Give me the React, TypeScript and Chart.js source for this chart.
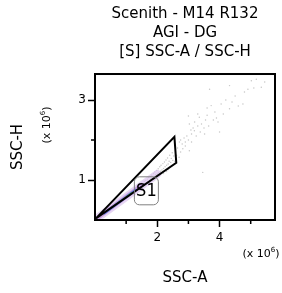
import React, { useEffect, useRef } from "react";
import { Chart, registerables } from "chart.js";

Chart.register(...registerables);

const titleLines = ["Scenith - M14 R132", "AGI - DG", "[S] SSC-A / SSC-H"];
const xAxisTitle = "SSC-A";
const yAxisTitle = "SSC-H";
const multiplierBase = "(x 10";
const multiplierExp = "6";

const xMin = 0;
const xMax = 5.78;
const yMin = 0;
const yMax = 3.65;
const xTickValues = [1, 2, 3, 4, 5];
const xMajorTicks = [2, 4];
const yTickValues = [1, 2, 3];
const yMajorTicks = [1, 3];

const gateName = "S1";
const gateX = [0.03, 2.55, 2.61, 0.03];
const gateY = [0.04, 2.08, 1.43, 0.04];
const gateLabelX = 1.65;
const gateLabelY = 0.73;

// sparse events (SSC-A, SSC-H) x 10^6
const eventsX = [
  1.25, 1.3, 1.35, 1.38, 1.42, 1.45, 1.48, 1.5, 1.52, 1.55, 1.58, 1.6, 1.62, 1.65, 1.68, 1.7,
  1.72, 1.75, 1.78, 1.8, 1.82, 1.85, 1.88, 1.9, 1.92, 1.95, 1.98, 2.0, 2.03, 2.05, 2.08, 2.1,
  2.12, 2.15, 2.18, 2.2, 2.23, 2.25, 2.28, 2.3, 2.33, 2.35, 2.38, 2.4, 2.43, 2.45, 2.48, 2.5,
  2.53, 2.56, 2.2, 2.3, 2.4, 2.35, 1.9, 2.0, 1.7, 1.6,
  2.62, 2.65, 2.7, 2.71, 2.75, 2.8, 2.82, 2.86, 2.9, 2.95, 3.0, 3.03, 3.03, 3.08, 3.1, 3.15,
  3.19, 3.2, 3.25, 3.3, 3.35, 3.38, 3.42, 3.46, 3.5, 3.52, 3.55, 3.6, 3.65, 3.68, 3.73, 3.8,
  3.85, 3.9, 4.0, 4.05, 4.12, 4.2, 4.32, 4.32, 4.4, 4.5, 4.6, 4.75, 4.8, 4.91, 5.02, 5.1,
  5.18, 5.34, 5.45, 2.9, 3.1, 3.3, 3.6, 3.95, 2.75, 3.0
];
const eventsY = [
  0.74, 0.8, 0.76, 0.84, 0.8, 0.88, 0.83, 0.92, 0.85, 0.9, 0.96, 0.89, 0.99, 0.94, 1.02, 0.95,
  1.06, 1.0, 1.09, 1.03, 1.12, 1.05, 1.16, 1.09, 1.2, 1.13, 1.24, 1.15, 1.28, 1.19, 1.33, 1.22,
  1.37, 1.25, 1.41, 1.29, 1.45, 1.33, 1.5, 1.37, 1.55, 1.4, 1.47, 1.62, 1.44, 1.54, 1.68, 1.49,
  1.6, 1.47, 1.16, 1.21, 1.32, 1.26, 1.01, 1.08, 0.93, 0.88,
  1.62, 1.8, 1.57, 1.95, 1.7, 1.9, 1.78, 2.05, 1.85, 2.1, 2.0, 2.4, 1.73, 2.25, 2.15, 2.3,
  2.23, 2.45, 2.1, 2.35, 2.57, 2.2, 2.4, 1.19, 2.3, 2.15, 2.5, 2.62, 2.35, 3.27, 2.86, 2.5,
  2.7, 2.55, 2.2, 2.9, 2.65, 3.0, 2.78, 3.36, 2.95, 3.1, 2.85, 2.9, 3.2, 3.27, 3.48, 3.3,
  3.52, 3.32, 3.45, 1.95, 1.95, 2.65, 2.8, 2.45, 2.0, 2.6
];

// dense core streak, drawn as bands
const hazeX = [0.06, 2.0];
const hazeY = [0.04, 1.15];
const purpleX = [0.1, 1.5];
const purpleY = [0.06, 0.87];
const blueX = [0.3, 1.3];
const blueY = [0.17, 0.75];
const greenX = [0.55, 1.18];
const greenY = [0.32, 0.68];
const redX = [0.8, 1.0];
const redY = [0.46, 0.58];

const FONT = "'DejaVu Sans', sans-serif";

const toPoints = (xs: number[], ys: number[]) => xs.map((x, i) => ({ x, y: ys[i] }));

const band = (xs: number[], ys: number[], color: string, width: number, order: number) => ({
  type: "line" as const,
  data: toPoints(xs, ys),
  borderColor: color,
  borderWidth: width,
  pointRadius: 0,
  showLine: true,
  fill: false,
  borderCapStyle: "round" as const,
  order,
});

const drawMultiplier = (ctx: CanvasRenderingContext2D, x: number, y: number) => {
  ctx.font = `11px ${FONT}`;
  const w1 = ctx.measureText(multiplierBase).width;
  ctx.font = `7px ${FONT}`;
  const w2 = ctx.measureText(multiplierExp).width;
  ctx.font = `11px ${FONT}`;
  const w3 = ctx.measureText(")").width;
  const total = w1 + w2 + w3;
  let cx = x - total / 2;
  ctx.textAlign = "left";
  ctx.textBaseline = "middle";
  ctx.fillText(multiplierBase, cx, y);
  cx += w1;
  ctx.font = `7px ${FONT}`;
  ctx.fillText(multiplierExp, cx, y - 4);
  cx += w2;
  ctx.font = `11px ${FONT}`;
  ctx.fillText(")", cx, y);
};

const decorPlugin = {
  id: "decor",
  afterDatasetsDraw(chart: any) {
    const { ctx, scales } = chart;
    const xs = scales.x;
    const ys = scales.y;
    ctx.save();
    const lx = xs.getPixelForValue(gateLabelX);
    const ly = ys.getPixelForValue(gateLabelY);
    const bw = 24;
    const bh = 28;
    ctx.beginPath();
    (ctx as any).roundRect(lx - bw / 2, ly - bh / 2, bw, bh, 5);
    ctx.strokeStyle = "#808080";
    ctx.lineWidth = 1;
    ctx.stroke();
    ctx.fillStyle = "#000";
    ctx.font = `18px 'DejaVu Sans Condensed', ${FONT}`;
    ctx.textAlign = "center";
    ctx.textBaseline = "middle";
    ctx.fillText(gateName, lx, ly + 1);
    ctx.restore();
  },
  afterDraw(chart: any) {
    const { ctx, chartArea, scales } = chart;
    const xs = scales.x;
    const ys = scales.y;
    ctx.save();
    ctx.strokeStyle = "#000";
    ctx.lineWidth = 2;
    ctx.strokeRect(chartArea.left, chartArea.top, chartArea.right - chartArea.left, chartArea.bottom - chartArea.top);
    ctx.lineWidth = 1.5;
    ctx.beginPath();
    xTickValues.filter((v) => !xMajorTicks.includes(v)).forEach((v) => {
      const px = xs.getPixelForValue(v);
      ctx.moveTo(px, chartArea.bottom);
      ctx.lineTo(px, chartArea.bottom + 4);
    });
    yTickValues.filter((v) => !yMajorTicks.includes(v)).forEach((v) => {
      const py = ys.getPixelForValue(v);
      ctx.moveTo(chartArea.left, py);
      ctx.lineTo(chartArea.left - 4, py);
    });
    ctx.stroke();
    ctx.fillStyle = "#000";
    ctx.font = `15px ${FONT}`;
    ctx.textAlign = "center";
    ctx.textBaseline = "middle";
    const cx = (chartArea.left + chartArea.right) / 2;
    const cy = (chartArea.top + chartArea.bottom) / 2;
    ctx.fillText(xAxisTitle, cx, chartArea.bottom + 58);
    ctx.save();
    ctx.translate(18, cy);
    ctx.rotate(-Math.PI / 2);
    ctx.fillText(yAxisTitle, 0, 0);
    ctx.restore();
    drawMultiplier(ctx, chartArea.right - 14, chartArea.bottom + 34);
    ctx.save();
    ctx.translate(47, cy - 22);
    ctx.rotate(-Math.PI / 2);
    drawMultiplier(ctx, 0, 0);
    ctx.restore();
    ctx.restore();
  },
};

export default function App() {
  const canvasRef = useRef<HTMLCanvasElement | null>(null);

  useEffect(() => {
    if (!canvasRef.current) return;
    Chart.defaults.font.family = FONT;
    const chart = new Chart(canvasRef.current, {
      type: "scatter",
      data: {
        datasets: [
          {
            type: "line",
            data: toPoints(gateX, gateY),
            borderColor: "#000",
            borderWidth: 2,
            pointRadius: 0,
            showLine: true,
            fill: false,
            borderJoinStyle: "miter",
            order: 0,
          } as any,
          band(redX, redY, "rgba(225,60,50,0.9)", 1, 1),
          band(greenX, greenY, "rgba(70,200,90,0.95)", 1.4, 2),
          band(blueX, blueY, "rgba(80,110,230,0.85)", 2.4, 3),
          band(purpleX, purpleY, "rgba(185,140,215,0.7)", 4, 4),
          band(hazeX, hazeY, "rgba(220,195,238,0.7)", 8, 5),
          {
            type: "scatter",
            data: toPoints(eventsX, eventsY),
            backgroundColor: "rgba(140,140,140,0.5)",
            borderWidth: 0,
            pointRadius: 0.7,
            order: 6,
          } as any,
        ],
      },
      options: {
        animation: false,
        responsive: true,
        maintainAspectRatio: false,
        layout: { padding: { left: 0, right: 7, top: 0, bottom: 0 } },
        plugins: {
          legend: { display: false },
          tooltip: { enabled: false },
          title: {
            display: true,
            text: titleLines,
            fullSize: false,
            color: "#000",
            font: { family: FONT, size: 15, weight: "normal", lineHeight: 1.267 },
            padding: { top: 5, bottom: 12 },
          },
        },
        scales: {
          x: {
            type: "linear",
            min: xMin,
            max: xMax,
            afterFit: (s: any) => {
              s.height = 73;
            },
            border: { display: true, color: "#000", width: 2 },
            grid: {
              display: true,
              drawOnChartArea: false,
              drawTicks: true,
              tickLength: 7,
              tickWidth: 1.5,
              tickColor: (c: any) => (xMajorTicks.includes(c.tick?.value) ? "#000" : "rgba(0,0,0,0)"),
            },
            ticks: {
              stepSize: 1,
              includeBounds: false,
              autoSkip: false,
              maxRotation: 0,
              color: "#000",
              padding: 4,
              font: { family: FONT, size: 12 },
              callback: (v: any) => (xMajorTicks.includes(Number(v)) ? String(v) : ""),
            },
          },
          y: {
            type: "linear",
            min: yMin,
            max: yMax,
            afterFit: (s: any) => {
              s.width = 95;
            },
            border: { display: true, color: "#000", width: 2 },
            grid: {
              display: true,
              drawOnChartArea: false,
              drawTicks: true,
              tickLength: 7,
              tickWidth: 1.5,
              tickColor: (c: any) => (yMajorTicks.includes(c.tick?.value) ? "#000" : "rgba(0,0,0,0)"),
            },
            ticks: {
              stepSize: 1,
              includeBounds: false,
              autoSkip: false,
              color: "#000",
              padding: 2,
              font: { family: FONT, size: 12 },
              callback: (v: any) => (yMajorTicks.includes(Number(v)) ? String(v) : ""),
            },
          },
        },
      },
      plugins: [decorPlugin],
    });
    return () => chart.destroy();
  }, []);

  return (
    <div style={{ position: "fixed", left: 0, top: 0, width: 282, height: 293, background: "#fff" }}>
      <canvas ref={canvasRef} />
    </div>
  );
}
